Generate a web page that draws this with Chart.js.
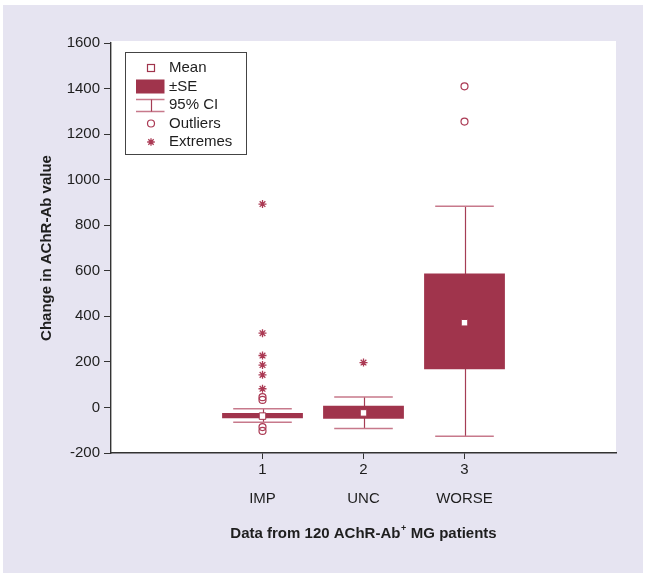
<!DOCTYPE html>
<html><head><meta charset="utf-8">
<script src="https://cdn.jsdelivr.net/npm/chart.js@4.4.1/dist/chart.umd.min.js"></script>
<style>html,body{margin:0;padding:0;background:#fff;}canvas{display:block;}</style>
</head><body>
<canvas id="c" width="649" height="579"></canvas>
<script>
// ---- data ----
const categories = ['IMP', 'UNC', 'WORSE'];
const groupPositions = [1, 2, 3];
const seLow = [-47, -50, 168];
const seHigh = [-24, 7, 588];
const meanValues = [-38, -24, 372];
const ciLow = [-65, -92, -127];
const ciHigh = [-6, 46, 883];
const outlierGroups = [1, 1, 1, 1, 3, 3];
const outlierValues = [45, 33, -86, -103, 1410, 1255];
const extremeGroups = [1, 1, 1, 1, 1, 1, 2];
const extremeValues = [893, 326, 228, 186, 143, 82, 197];
const yTickValues = [-200, 0, 200, 400, 600, 800, 1000, 1200, 1400, 1600];
const legendLabels = ['Mean', '\u00B1SE', '95% CI', 'Outliers', 'Extremes'];
const yTitle = 'Change in AChR-Ab value';
const xTitleParts = ['Data from 120 AChR-Ab', '+', ' MG patients'];

// ---- styles ----
const BOX = '#a0344c';
const CAP = '#c7798b';
const STEM = '#a53d55';
const MARK = '#ab3a54';
const AXIS = '#333333';
const TEXT = '#1e1e1e';
const LAV = '#e6e4f1';
const FONT = '"Liberation Sans", Arial, Helvetica, sans-serif';
const capHalf = 0.29;

const bgPlugin = {
  id: 'bg',
  beforeDraw(chart) {
    const { ctx, chartArea: a } = chart;
    ctx.save();
    ctx.fillStyle = '#ffffff';
    ctx.fillRect(0, 0, chart.width, chart.height);
    ctx.fillStyle = LAV;
    ctx.fillRect(3, 5, 640, 568);
    ctx.fillStyle = '#ffffff';
    ctx.fillRect(a.left, a.top - 2, a.right - a.left, a.bottom - a.top + 2);
    ctx.restore();
  }
};

const whiskerPlugin = {
  id: 'whiskers',
  beforeDatasetsDraw(chart) {
    const { ctx, scales: { x, y } } = chart;
    ctx.save();
    groupPositions.forEach((g, i) => {
      const cx = Math.round(x.getPixelForValue(g)) + 0.5;
      const yh = y.getPixelForValue(ciHigh[i]);
      const yl = y.getPixelForValue(ciLow[i]);
      ctx.strokeStyle = STEM; ctx.lineWidth = 1.2;
      ctx.beginPath(); ctx.moveTo(cx, yh); ctx.lineTo(cx, yl); ctx.stroke();
      const l = x.getPixelForValue(g - capHalf), r = x.getPixelForValue(g + capHalf);
      ctx.strokeStyle = CAP; ctx.lineWidth = 1.5;
      ctx.beginPath();
      ctx.moveTo(l, yh); ctx.lineTo(r, yh);
      ctx.moveTo(l, yl); ctx.lineTo(r, yl);
      ctx.stroke();
    });
    ctx.restore();
  }
};

function drawStar(ctx, x, y, r) {
  ctx.beginPath();
  for (let k = 0; k < 4; k++) {
    const ang = k * Math.PI / 4;
    ctx.moveTo(x - r * Math.cos(ang), y - r * Math.sin(ang));
    ctx.lineTo(x + r * Math.cos(ang), y + r * Math.sin(ang));
  }
  ctx.stroke();
}

const decorPlugin = {
  id: 'decor',
  afterDraw(chart) {
    const { ctx, chartArea: a } = chart;
    ctx.save();
    ctx.fillStyle = TEXT;
    // y title
    ctx.font = 'bold 15px ' + FONT;
    ctx.textAlign = 'center'; ctx.textBaseline = 'middle';
    ctx.save();
    ctx.translate(47, (a.top + a.bottom) / 2);
    ctx.rotate(-Math.PI / 2);
    ctx.fillText(yTitle, 0, 0);
    ctx.restore();
    // x title with superscript
    ctx.textAlign = 'left';
    const big = 'bold 15px ' + FONT, small = 'bold 9px ' + FONT;
    ctx.font = big; const w0 = ctx.measureText(xTitleParts[0]).width;
    const w2 = ctx.measureText(xTitleParts[2]).width;
    ctx.font = small; const w1 = ctx.measureText(xTitleParts[1]).width + 1;
    let tx = (a.left + a.right) / 2 - (w0 + w1 + w2) / 2;
    const ty = 534;
    ctx.font = big; ctx.fillText(xTitleParts[0], tx, ty); tx += w0;
    ctx.font = small; ctx.fillText(xTitleParts[1], tx + 0.5, ty - 5); tx += w1;
    ctx.font = big; ctx.fillText(xTitleParts[2], tx, ty);
    // legend
    ctx.fillStyle = '#ffffff';
    ctx.fillRect(125, 52, 122, 103);
    ctx.strokeStyle = '#444'; ctx.lineWidth = 1;
    ctx.strokeRect(125.5, 52.5, 121, 102);
    const rows = [68, 86.5, 105, 123.5, 142];
    const mx = 151;
    // mean
    ctx.fillStyle = '#fff'; ctx.strokeStyle = BOX; ctx.lineWidth = 1.2;
    ctx.fillRect(147.5, 64.5, 7, 7); ctx.strokeRect(147.5, 64.5, 7, 7);
    // SE
    ctx.fillStyle = BOX; ctx.fillRect(136, 79.5, 28.5, 14);
    // CI
    ctx.strokeStyle = CAP; ctx.lineWidth = 1.5;
    ctx.beginPath(); ctx.moveTo(136, 99.5); ctx.lineTo(164.5, 99.5);
    ctx.moveTo(136, 111.5); ctx.lineTo(164.5, 111.5); ctx.stroke();
    ctx.strokeStyle = STEM; ctx.lineWidth = 1.2;
    ctx.beginPath(); ctx.moveTo(mx + 0.5, 99.5); ctx.lineTo(mx + 0.5, 111.5); ctx.stroke();
    // outlier
    ctx.strokeStyle = MARK; ctx.lineWidth = 1.2;
    ctx.beginPath(); ctx.arc(mx, rows[3], 3.5, 0, Math.PI * 2); ctx.stroke();
    // extreme
    ctx.lineWidth = 1.3; drawStar(ctx, mx, rows[4], 3.8);
    ctx.fillStyle = TEXT; ctx.font = '15px ' + FONT;
    ctx.textAlign = 'left'; ctx.textBaseline = 'middle';
    legendLabels.forEach((t, i) => ctx.fillText(t, 169, rows[i]));
    ctx.restore();
  }
};

new Chart(document.getElementById('c'), {
  type: 'bar',
  data: {
    datasets: [
      {
        type: 'bar', order: 4,
        data: groupPositions.map((g, i) => ({ x: g, y: [seLow[i], seHigh[i]] })),
        backgroundColor: BOX, borderWidth: 0,
        barPercentage: 1, categoryPercentage: 0.8
      },
      {
        type: 'scatter', order: 2,
        data: outlierGroups.map((g, i) => ({ x: g, y: outlierValues[i] })),
        pointStyle: 'circle', radius: 3.5, borderWidth: 1.2,
        borderColor: MARK, backgroundColor: 'rgba(255,255,255,0)'
      },
      {
        type: 'scatter', order: 1,
        data: extremeGroups.map((g, i) => ({ x: g, y: extremeValues[i] })),
        pointStyle: 'star', radius: 4, borderWidth: 1.3,
        borderColor: MARK, backgroundColor: MARK
      },
      {
        type: 'scatter', order: 0,
        data: groupPositions.map((g, i) => ({ x: g, y: meanValues[i] })),
        pointStyle: 'rect', radius: 4.6, borderWidth: 1,
        borderColor: BOX, backgroundColor: '#ffffff'
      }
    ]
  },
  options: {
    responsive: false, animation: false, events: [],
    layout: { padding: { top: 43, right: 33, bottom: 0, left: 0 } },
    plugins: { legend: { display: false }, tooltip: { enabled: false } },
    scales: {
      x: {
        type: 'linear', min: -0.5, max: 4.5, offset: false,
        afterBuildTicks: s => { s.ticks = groupPositions.map(v => ({ value: v })); },
        afterFit: s => { s.height = 126; },
        ticks: {
          autoSkip: false, maxRotation: 0, padding: 4, color: TEXT,
          font: { family: FONT, size: 15, lineHeight: 0.95 },
          callback: v => [String(v), '', categories[groupPositions.indexOf(v)]]
        },
        grid: { drawOnChartArea: false, offset: false, tickLength: 6, color: AXIS, lineWidth: 1 },
        border: { color: AXIS, width: 1.4 }
      },
      y: {
        type: 'linear', min: -200, max: 1600,
        afterBuildTicks: s => { s.ticks = yTickValues.map(v => ({ value: v })); },
        afterFit: s => { s.width = 111; },
        ticks: { padding: 4, color: TEXT, font: { family: FONT, size: 15 }, callback: v => String(v) },
        grid: { drawOnChartArea: false, tickLength: 7, color: AXIS, lineWidth: 1 },
        border: { color: AXIS, width: 1.4 }
      }
    }
  },
  plugins: [bgPlugin, whiskerPlugin, decorPlugin]
});
</script>
</body></html>
